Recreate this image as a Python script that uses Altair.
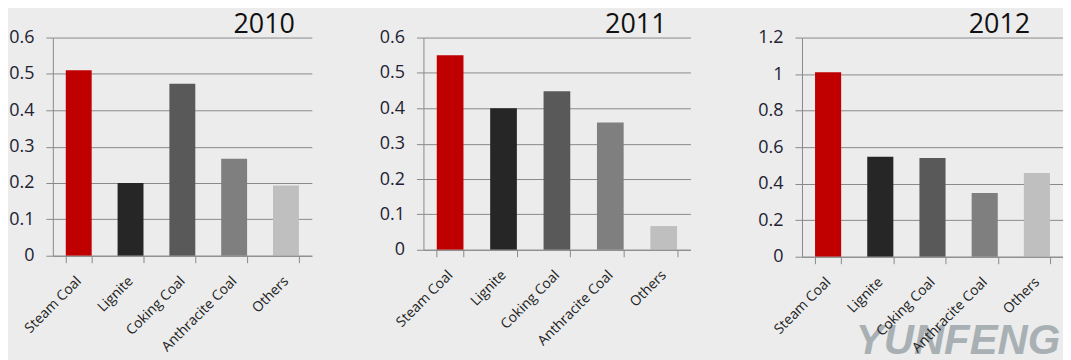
import altair as alt
import pandas as pd

categories = ["Steam Coal", "Lignite", "Coking Coal", "Anthracite Coal", "Others"]
bar_colors = ["#c00000", "#262626", "#595959", "#7f7f7f", "#bfbfbf"]
years = ["2010", "2011", "2012"]
values_2010 = [0.51, 0.20, 0.473, 0.267, 0.193]
values_2011 = [0.55, 0.40, 0.448, 0.36, 0.067]
values_2012 = [1.01, 0.547, 0.54, 0.349, 0.458]
y_max = [0.6, 0.6, 1.2]
y_ticks = [
    [0, 0.1, 0.2, 0.3, 0.4, 0.5, 0.6],
    [0, 0.1, 0.2, 0.3, 0.4, 0.5, 0.6],
    [0, 0.2, 0.4, 0.6, 0.8, 1.0, 1.2],
]
all_values = [values_2010, values_2011, values_2012]

# layout (style only)
widths = [260, 268, 262]
heights = [219, 213, 220]
title_dx = [-17, -24, -33]

FONT = "Open Sans"


def panel(i):
    df = pd.DataFrame({"category": categories, "value": all_values[i]})
    base = alt.Chart(df)
    bars = base.mark_bar().encode(
        x=alt.X(
            "category:N",
            sort=categories,
            scale=alt.Scale(paddingInner=0.5, paddingOuter=0.25),
            axis=alt.Axis(
                title=None,
                labelAngle=-45,
                labelAlign="right",
                labelBaseline="middle",
                labelFontSize=14,
                labelFont=FONT,
                labelColor="#222222",
                labelPadding=16,
                labelOffset=0,
                tickBand="extent",
                tickSize=7,
                tickColor="#8a8a8a",
                domainColor="#8a8a8a",
                grid=False,
                zindex=1,
            ),
        ),
        y=alt.Y(
            "value:Q",
            scale=alt.Scale(domain=[0, y_max[i]], nice=False),
            axis=alt.Axis(
                title=None,
                values=y_ticks[i],
                labelExpr="'' + round(datum.value * 10) / 10",
                labelFontSize=18,
                labelFont=FONT,
                labelColor="#222233",
                labelPadding=12,
                tickSize=7,
                tickColor="#8a8a8a",
                domainColor="#8a8a8a",
                gridColor="#8a8a8a",
            ),
        ),
        color=alt.Color(
            "category:N",
            sort=categories,
            scale=alt.Scale(domain=categories, range=bar_colors),
            legend=None,
        ),
    )
    year_text = alt.Chart(pd.DataFrame({"t": [years[i]]})).mark_text(
        fontSize=27,
        font=FONT,
        color="#111111",
        align="right",
        baseline="alphabetic",
    ).encode(
        text="t:N",
        x=alt.value(widths[i] + title_dx[i]),
        y=alt.value(-5),
    )
    layers = [bars, year_text]
    if i == 2:
        wm = alt.Chart(pd.DataFrame({"t": ["YUNFENG"]})).mark_text(
            fontSize=42,
            font="Liberation Sans",
            fontStyle="italic",
            fontWeight="bold",
            color="#a9b0b4",
            align="left",
            baseline="alphabetic",
        ).encode(text="t:N", x=alt.value(54), y=alt.value(318))
        layers = [wm] + layers
    return alt.layer(*layers).properties(width=widths[i], height=heights[i])


chart = (
    alt.hconcat(panel(0), panel(1), panel(2), spacing=112, bounds="flush")
    .properties(padding={"left": 0, "top": 2, "right": 0, "bottom": 0},
                background="#ececec")
    .configure_view(stroke=None)
)

chart.save("out.html", embed_options={"renderer": "svg", "actions": False})
